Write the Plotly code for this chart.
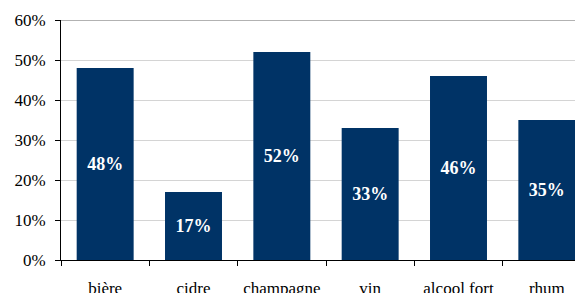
import plotly.graph_objects as go

categories = ["bière", "cidre", "champagne", "vin", "alcool fort", "rhum"]
values = [0.48, 0.17, 0.52, 0.33, 0.46, 0.35]
labels = ["48%", "17%", "52%", "33%", "46%", "35%"]
y_ticks = [0, 0.1, 0.2, 0.3, 0.4, 0.5, 0.6]

font_family = "Liberation Serif"

fig = go.Figure(go.Bar(
    x=categories, y=values, text=labels,
    textposition="inside", insidetextanchor="middle",
    textfont=dict(family=font_family, size=18, color="white", weight="bold"),
    marker=dict(color="#003366", line=dict(width=0)),
    width=0.645, textangle=0, cliponaxis=False,
))

fig.update_layout(
    width=583, height=293,
    margin=dict(l=53, r=0, t=12, b=41, autoexpand=False),
    plot_bgcolor="white", paper_bgcolor="white",
    showlegend=False,
    font=dict(family=font_family, size=17, color="black"),
)
fig.update_xaxes(
    type="category", range=[-0.5, 5.5], tickson="boundaries",
    ticks="outside", ticklen=5, tickcolor="black",
    showline=True, linecolor="black", linewidth=1,
    showgrid=False, ticklabelstandoff=13, automargin=False,
    tickfont=dict(family=font_family, size=17, color="black"),
)
fig.update_yaxes(
    range=[0, 0.6], tickvals=y_ticks, tickformat=".0%",
    ticks="outside", ticklen=5, tickcolor="black",
    showline=True, linecolor="black", linewidth=1,
    showgrid=True, gridcolor="#d4d4d4", gridwidth=1,
    zeroline=False, ticklabelstandoff=6, automargin=False,
    tickfont=dict(family=font_family, size=17, color="black"),
)
fig.add_shape(type="line", xref="paper", yref="y", x0=0, x1=1, y0=0.6, y1=0.6,
              line=dict(color="#999999", width=1.5), layer="above")

fig.write_html("out.html")
